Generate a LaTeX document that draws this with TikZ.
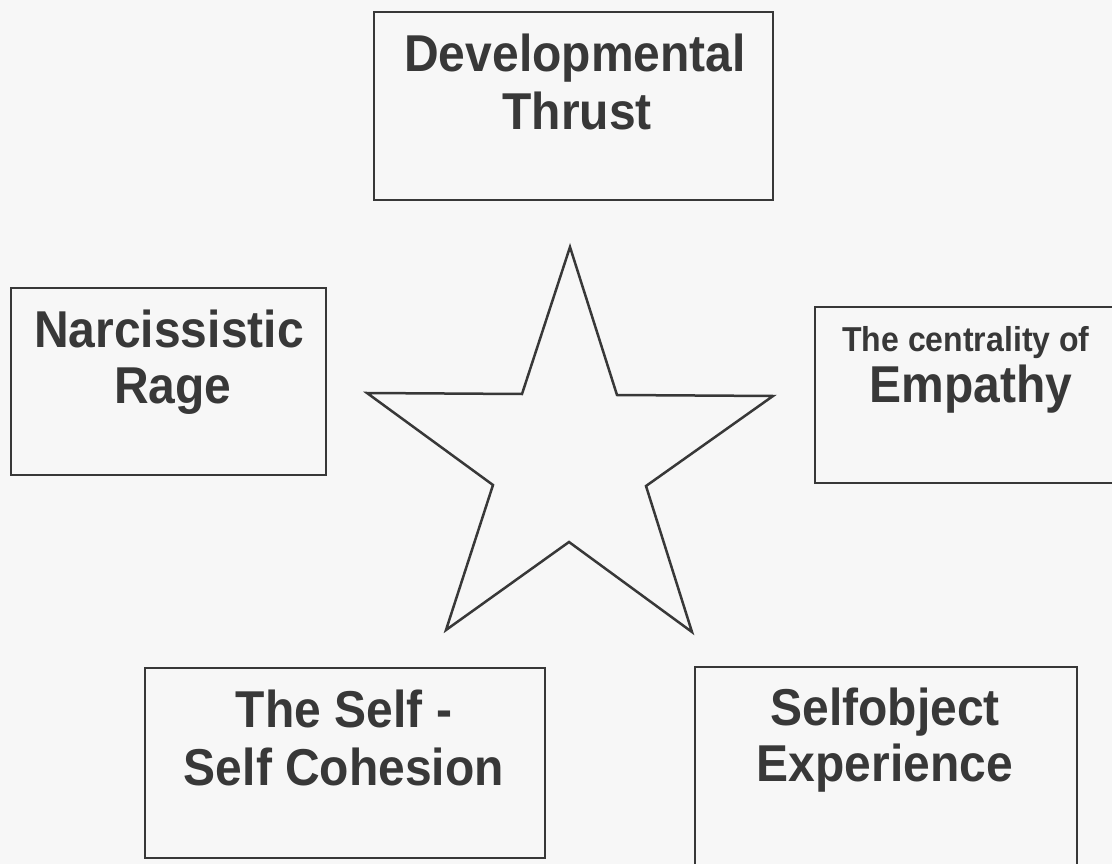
\documentclass[tikz,border=0pt]{standalone}
\usepackage{fontspec}
\setmainfont{Liberation Sans}
\definecolor{ink}{HTML}{383838}
\definecolor{paper}{HTML}{F7F7F7}
\newcommand{\bigtx}[1]{\scalebox{1}[1.08]{\fontsize{48}{56}\selectfont\bfseries #1}}
\newcommand{\smalltx}[1]{\scalebox{1}[1.08]{\fontsize{32}{38}\selectfont\bfseries #1}}
\tikzset{
  boxshape/.style={draw=ink, line width=2.5pt, rectangle, inner sep=0pt},
  line/.style={anchor=base, inner sep=0pt, text=ink},
}
\begin{document}
\begin{tikzpicture}[x=1pt,y=-1pt]
\useasboundingbox (0,0) rectangle (1112,864);
\fill[paper] (0,0) rectangle (1112,864);
\clip (0,0) rectangle (1112,864);
% boxes
\node[boxshape, minimum width=399pt, minimum height=188pt] (topbox) at (573.5,106) {};
\node[boxshape, minimum width=315pt, minimum height=187pt] (leftbox) at (168.5,381.5) {};
\node[boxshape, minimum width=310pt, minimum height=176pt] (rightbox) at (970,395) {};
\node[boxshape, minimum width=400pt, minimum height=190pt] (selfbox) at (345,763) {};
\node[boxshape, minimum width=382pt, minimum height=213pt] (objbox) at (886,773.5) {};
% texts
\node[line] (t1) at (575,72) {\bigtx{Developmental}};
\node[line] (t2) at (577,130) {\bigtx{Thrust}};
\node[line] (l1) at (169,347) {\bigtx{Narcissistic}};
\node[line] (l2) at (173,403) {\bigtx{Rage}};
\node[line] (r1) at (966,351) {\smalltx{The centrality of}};
\node[line] (r2) at (971,402) {\bigtx{Empathy}};
\node[line] (s1) at (344,727) {\bigtx{The Self -}};
\node[line] (s2) at (344,785) {\bigtx{Self Cohesion}};
\node[line] (o1) at (885,725) {\bigtx{Selfobject}};
\node[line] (o2) at (885,781) {\bigtx{Experience}};
% star
\draw[ink, line width=2.5pt, line join=miter]
  (570,247) -- (617,395) -- (773,396) -- (646,486) -- (692,632)
  -- (569,542) -- (446,630) -- (493,485) -- (367,393) -- (522,394) -- cycle;
\end{tikzpicture}
\end{document}
